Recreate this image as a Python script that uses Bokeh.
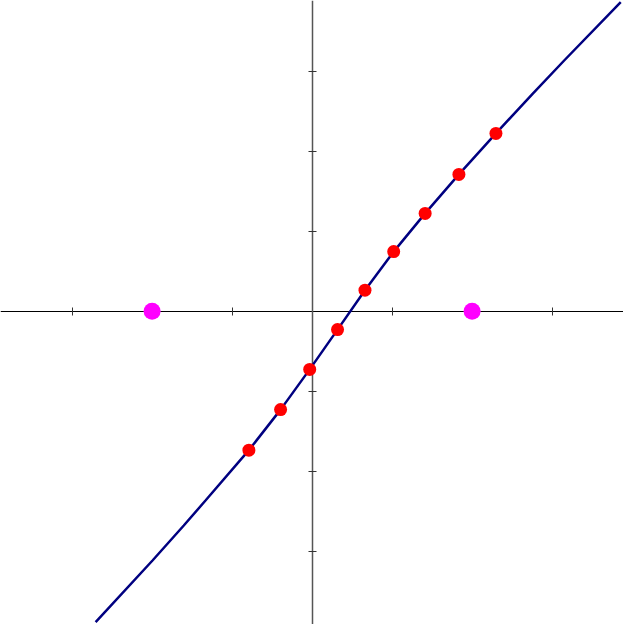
from bokeh.plotting import figure
from bokeh.models import LinearAxis, FixedTicker, Range1d
from bokeh.embed import file_html
from bokeh.resources import INLINE

# curve samples
curve_x = [-2.706, -1.995, -1.604, -1.3325, -0.79, -0.394, -0.030, 0.318, 0.661,
           1.020, 1.413, 1.835, 2.298, 2.756, 3.151, 3.858]
curve_y = [-3.885, -3.115, -2.678, -2.365, -1.736, -1.229, -0.726, -0.229, 0.264,
           0.746, 1.224, 1.711, 2.224, 2.719, 3.135, 3.864]

# red points
pts_x = [-0.79, -0.394, -0.030, 0.318, 0.661, 1.020, 1.413, 1.835, 2.298]
pts_y = [-1.736, -1.229, -0.726, -0.229, 0.264, 0.746, 1.224, 1.711, 2.224]

# magenta points
foci_x = [-2, 2]
foci_y = [0, 0]

ticks = [-3, -2, -1, 1, 2, 3]

p = figure(width=623, height=624, output_backend="svg", toolbar_location=None,
           x_axis_type=None, y_axis_type=None,
           x_range=Range1d(-3.895, 3.8925), y_range=Range1d(-3.915, 3.885),
           min_border=0, outline_line_color=None, background_fill_color="white")

xa = LinearAxis(fixed_location=0, ticker=FixedTicker(ticks=ticks),
                axis_line_color="black", axis_line_width=1,
                major_tick_line_color="#333333", major_tick_in=4, major_tick_out=4,
                minor_tick_line_color=None, major_label_text_font_size="0pt",
                major_label_text_color=None, level="underlay")
ya = LinearAxis(fixed_location=0, ticker=FixedTicker(ticks=ticks),
                axis_line_color="#555555", axis_line_width=1.5,
                major_tick_line_color="#333333", major_tick_in=4, major_tick_out=4,
                minor_tick_line_color=None, major_label_text_font_size="0pt",
                major_label_text_color=None, level="underlay")
p.add_layout(xa, "below")
p.add_layout(ya, "left")

p.line(curve_x, curve_y, line_color="#000080", line_width=2.5)
p.scatter(pts_x, pts_y, size=13, fill_color="#ff0000", line_color=None)
p.scatter(foci_x, foci_y, size=17, fill_color="#ff00ff", line_color=None)

open("out.html", "w").write(file_html(p, INLINE))
